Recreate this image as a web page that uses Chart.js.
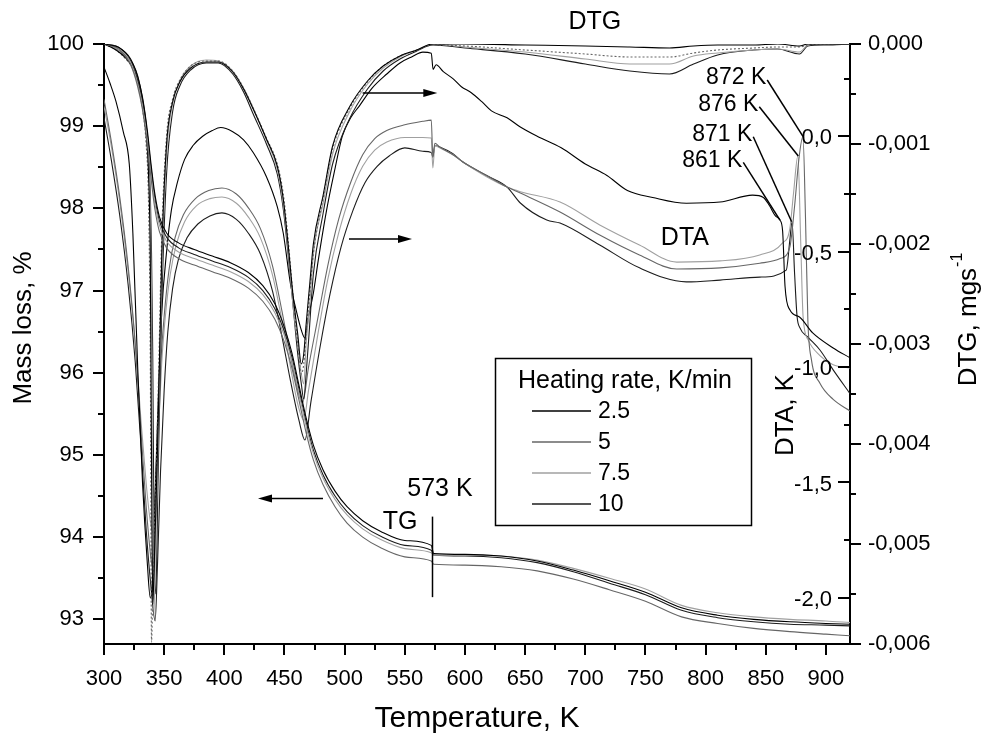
<!DOCTYPE html>
<html>
<head>
<meta charset="utf-8">
<title>TG / DTG / DTA</title>
<script src="https://cdn.jsdelivr.net/npm/chart.js@4.4.0/dist/chart.umd.min.js"></script>
<style>
  html, body { margin: 0; padding: 0; background: #fff; }
  canvas { display: block; }
</style>
</head>
<body>
<canvas id="chart" width="985" height="742"></canvas>
<script>
// Heating rates, K/min
const rates = ['2.5', '5', '7.5', '10'];
const rateColors = ['#000000', '#666666', '#a0a0a0', '#1c1c1c'];

// Tick labels
const tempTicks = [300, 350, 400, 450, 500, 550, 600, 650, 700, 750, 800, 850, 900];
const massTicks = [93, 94, 95, 96, 97, 98, 99, 100];
const dtgTicks = [0, -0.001, -0.002, -0.003, -0.004, -0.005, -0.006];
const dtaTicks = [0, -0.5, -1, -1.5, -2];

// TG, %
const tgT = [300, 312, 322, 328, 332, 336, 339, 342, 346, 352, 362, 375, 390, 405, 420, 432, 442, 450, 456, 462,
  468, 474, 482, 492, 502, 515, 530, 550, 572, 574, 600, 630, 660, 690, 720, 750, 780, 810, 840, 870, 900, 920];
const tg25 = [100, 99.96, 99.82, 99.6, 99.35, 98.95, 98.55, 98.2, 97.9, 97.7, 97.58, 97.5, 97.42, 97.34, 97.22, 97.06, 96.84, 96.55, 96.25, 95.85,
  95.45, 95.12, 94.82, 94.56, 94.37, 94.2, 94.07, 93.96, 93.9, 93.8, 93.79, 93.77, 93.71, 93.6, 93.47, 93.33, 93.14, 93.05, 93.0, 92.97, 92.95, 92.94];
const tg5 = [100, 99.94, 99.75, 99.48, 99.2, 98.78, 98.38, 98.02, 97.72, 97.52, 97.39, 97.31, 97.23, 97.15, 97.03, 96.87, 96.65, 96.37, 96.07, 95.67,
  95.27, 94.94, 94.64, 94.37, 94.17, 94.0, 93.87, 93.76, 93.71, 93.67, 93.66, 93.64, 93.59, 93.49, 93.36, 93.22, 93.03, 92.95, 92.89, 92.85, 92.82, 92.8];
const tg75 = [100, 99.95, 99.78, 99.52, 99.25, 98.85, 98.45, 98.1, 97.8, 97.6, 97.47, 97.39, 97.31, 97.23, 97.11, 96.95, 96.73, 96.45, 96.15, 95.75,
  95.35, 95.02, 94.72, 94.46, 94.27, 94.1, 93.97, 93.86, 93.81, 93.78, 93.78, 93.77, 93.72, 93.62, 93.5, 93.37, 93.17, 93.08, 93.03, 93.0, 92.98, 92.96];
const tg10 = [100, 99.96, 99.8, 99.55, 99.3, 98.9, 98.5, 98.15, 97.85, 97.65, 97.52, 97.44, 97.36, 97.28, 97.16, 97.0, 96.78, 96.5, 96.2, 95.8,
  95.4, 95.06, 94.76, 94.5, 94.31, 94.14, 94.01, 93.9, 93.84, 93.78, 93.77, 93.75, 93.69, 93.58, 93.44, 93.3, 93.11, 93.02, 92.97, 92.94, 92.93, 92.92];

// DTG, mg/s
const dtgT = [300, 310, 318, 324, 328, 332, 335, 337, 338.5, 339.5, 340.5, 341.5, 343, 345, 348, 352, 357, 363, 372, 385,
  395, 407, 416, 424, 435, 444, 449, 453, 457, 461, 464, 466, 468, 471, 474, 482, 490, 504, 519, 532,
  546, 560, 573, 600, 650, 700, 737, 770, 790, 810, 840, 860, 878, 885, 900, 920];
const dtg25 = [0, -0.00006, -0.00014, -0.00024, -0.00038, -0.00062, -0.0009, -0.0013, -0.0022, -0.0042,
  -0.0056, -0.0053, -0.0047, -0.0038, -0.0021, -0.0010, -0.00058, -0.00038, -0.00024, -0.00018,
  -0.00018, -0.00028, -0.00045, -0.00065, -0.00095, -0.00122, -0.00155, -0.0020, -0.0025, -0.0029,
  -0.0032, -0.0031, -0.0028, -0.0024, -0.0020, -0.00152, -0.00102, -0.00063, -0.00037, -0.00022,
  -0.00012, -0.00006, 0, 0, -0.00001, -0.00002, -0.00003, -0.00004, -0.00002, -0.00001,
  -0.00001, 0, -0.00002, 0, 0, 0];
const dtg5 = [0, -0.00006, -0.00015, -0.00025, -0.0004, -0.00065, -0.001, -0.0016, -0.0032, -0.00598,
  -0.0055, -0.005, -0.0044, -0.0035, -0.0019, -0.00092, -0.00055, -0.00036, -0.00022, -0.00017,
  -0.00017, -0.00027, -0.00044, -0.00064, -0.00094, -0.0012, -0.0015, -0.00195, -0.0025, -0.003,
  -0.0033, -0.0032, -0.0029, -0.0025, -0.0021, -0.00155, -0.00105, -0.00065, -0.00038, -0.00022,
  -0.00012, -0.00006, -0.00001, -0.00002, -0.00006, -0.0001, -0.00013, -0.00013, -0.00009, -0.00006,
  -0.00004, -0.00003, -0.00003, -0.00001, 0, 0];
const dtg75 = [0, -0.00005, -0.00013, -0.00023, -0.00036, -0.0006, -0.00088, -0.0012, -0.0017, -0.0026,
  -0.0045, -0.0057, -0.0049, -0.004, -0.0023, -0.0011, -0.0006, -0.00037, -0.00022, -0.00016,
  -0.00017, -0.00027, -0.00044, -0.00064, -0.00096, -0.00125, -0.0016, -0.00205, -0.0026, -0.003,
  -0.0033, -0.0034, -0.003, -0.0026, -0.0021, -0.0016, -0.0011, -0.00068, -0.0004, -0.00024,
  -0.00013, -0.00006, 0, -0.00003, -0.00008, -0.00015, -0.0002, -0.0002, -0.00012, -0.00009,
  -0.00006, -0.00005, -0.00008, -0.00001, 0, 0];
const dtg10 = [0, -0.00005, -0.00012, -0.0002, -0.00032, -0.00055, -0.0008, -0.0011, -0.0015, -0.0021,
  -0.0031, -0.0048, -0.0055, -0.0043, -0.0026, -0.0013, -0.00068, -0.00042, -0.00026, -0.00019,
  -0.00019, -0.0003, -0.00048, -0.0007, -0.001, -0.0013, -0.00165, -0.0021, -0.0026, -0.0031,
  -0.0034, -0.00355, -0.0033, -0.0028, -0.0023, -0.0017, -0.0012, -0.00075, -0.00045, -0.00027,
  -0.00015, -0.00007, -0.00001, -0.00004, -0.0001, -0.0002, -0.00027, -0.0003, -0.0002, -0.00011,
  -0.00006, -0.00005, -0.0001, -0.00002, -0.00001, 0];

// DTA, K
const dta25T = [300, 305, 310, 316, 321, 324, 328, 332, 336, 338.5, 340.5, 342.5, 345, 348, 352, 356, 361, 367, 374, 382,
  390, 397, 407, 416, 424, 435, 444, 449, 455, 460, 464, 467, 470, 474, 478, 485, 492, 498, 505, 512,
  523, 535, 546, 556, 565, 572, 573.5, 576, 582, 590, 597, 605, 614, 622, 635, 646, 660, 680, 700, 718,
  735, 756, 784, 812, 839, 848, 853, 858, 861.8, 864, 866, 870, 878, 889, 906, 920];
const dta25 = [0.30, 0.23, 0.15, 0.02, -0.12, -0.42, -1.0, -1.5, -1.85, -2.0, -1.9, -1.55, -1.15, -0.76, -0.5, -0.32, -0.2, -0.1, -0.04, 0.0,
  0.025, 0.038, 0.02, -0.015, -0.07, -0.175, -0.305, -0.42, -0.64, -0.76, -0.84, -0.874, -0.78, -0.68, -0.54, -0.32, -0.14, 0.0, 0.08, 0.13,
  0.21, 0.27, 0.318, 0.345, 0.365, 0.36, 0.29, 0.31, 0.28, 0.25, 0.215, 0.19, 0.15, 0.11, 0.08, 0.04, 0.0, -0.05, -0.12, -0.17,
  -0.235, -0.265, -0.29, -0.285, -0.255, -0.265, -0.3, -0.345, -0.363, -0.41, -0.65, -0.752, -0.783, -0.852, -0.917, -0.96];
const dta5T = [300, 306, 313, 320, 326, 331, 335, 338, 340, 342, 344.5, 347, 350, 354, 359, 366, 376, 387, 398, 410,
  420, 430, 440, 448, 455, 461, 465, 470, 478, 486, 495, 505, 515, 525, 535, 550, 565, 572, 573.3, 575,
  579, 590, 598, 618, 635, 646, 679, 712, 745, 776, 812, 845, 862, 870, 874, 877.5, 880.9, 883, 885, 888,
  895, 906, 920];
const dta5 = [0.16, -0.02, -0.26, -0.56, -0.9, -1.3, -1.6, -1.78, -1.86, -1.62, -1.3, -1.0, -0.78, -0.58, -0.44, -0.34, -0.27, -0.235, -0.224, -0.25,
  -0.31, -0.40, -0.56, -0.76, -0.95, -1.1, -1.155, -1.0, -0.78, -0.56, -0.36, -0.2, -0.08, -0.01, 0.025, 0.05, 0.065, 0.07, -0.09, -0.03,
  -0.046, -0.08, -0.11, -0.17, -0.22, -0.246, -0.328, -0.428, -0.514, -0.575, -0.57, -0.55, -0.53, -0.48, -0.3, -0.1, 0.0, -0.35, -0.8, -0.97,
  -1.07, -1.14, -1.19];
const dta75T = [300, 306, 313, 320, 326, 331, 335, 338, 341, 343, 345.5, 348, 351, 355, 360, 367, 377, 388, 398, 410,
  420, 430, 440, 448, 455, 461, 466, 470, 478, 486, 495, 505, 515, 525, 535, 550, 565, 572, 573.3, 575,
  579, 590, 598, 618, 635, 646, 679, 712, 745, 776, 812, 845, 864, 870, 873, 876.7, 879, 881, 885, 895,
  906, 920];
const dta75 = [0.13, -0.04, -0.28, -0.58, -0.9, -1.25, -1.5, -1.65, -1.72, -1.55, -1.25, -0.98, -0.78, -0.6, -0.47, -0.37, -0.3, -0.27, -0.263, -0.29,
  -0.35, -0.44, -0.60, -0.80, -1.0, -1.16, -1.23, -1.1, -0.85, -0.62, -0.42, -0.25, -0.13, -0.06, -0.025, -0.005, -0.005, -0.007, -0.137, -0.04,
  -0.05, -0.08, -0.11, -0.175, -0.22, -0.24, -0.285, -0.384, -0.471, -0.545, -0.54, -0.514, -0.462, -0.40, -0.25, -0.085, -0.45, -0.78, -0.88, -0.95,
  -0.99, -1.004];
const dta10T = [300, 306, 313, 320, 326, 331, 335, 339, 342.5, 344.5, 347, 350, 353, 357, 362, 369, 378, 388, 398, 410,
  420, 430, 440, 448, 455, 462, 467, 472, 480, 488, 497, 507, 517, 527, 537, 550, 565, 572, 573.3, 575,
  579, 590, 598, 618, 635, 646, 668, 679, 712, 745, 784, 812, 845, 867, 870, 871.8, 874, 876, 878.4, 885,
  895, 906, 920];
const dta10 = [0.08, -0.1, -0.34, -0.64, -0.98, -1.36, -1.7, -1.95, -2.1, -1.85, -1.45, -1.1, -0.85, -0.66, -0.53, -0.44, -0.38, -0.345, -0.332, -0.36,
  -0.42, -0.51, -0.67, -0.87, -1.06, -1.23, -1.316, -1.15, -0.9, -0.68, -0.48, -0.32, -0.2, -0.13, -0.085, -0.05, -0.065, -0.07, -0.09, -0.04,
  -0.046, -0.075, -0.11, -0.17, -0.22, -0.289, -0.363, -0.376, -0.471, -0.57, -0.631, -0.623, -0.61, -0.58, -0.45, -0.37, -0.6, -0.78, -0.83, -0.87,
  -0.926, -1.012, -1.115];

const FONT = "'Liberation Sans', Arial, Helvetica, sans-serif";
Chart.defaults.font.family = FONT;
Chart.defaults.color = '#000';

const pts = (xs, ys) => xs.map((x, i) => ({ x, y: ys[i] }));

const curve = (label, xs, ys, axis, color, dash) => ({
  label,
  data: pts(xs, ys),
  yAxisID: axis,
  borderColor: color,
  borderWidth: 1.1,
  borderDash: dash || [],
  pointRadius: 0,
  cubicInterpolationMode: 'monotone',
  fill: false,
});

const datasets = [
  curve('TG 2.5', tgT, tg25, 'yTG', rateColors[0]),
  curve('TG 5', tgT, tg5, 'yTG', rateColors[1]),
  curve('TG 7.5', tgT, tg75, 'yTG', rateColors[2]),
  curve('TG 10', tgT, tg10, 'yTG', rateColors[3]),
  curve('DTG 2.5', dtgT, dtg25, 'yDTG', rateColors[0]),
  curve('DTG 5', dtgT, dtg5, 'yDTG', rateColors[1], [2, 2]),
  curve('DTG 7.5', dtgT, dtg75, 'yDTG', rateColors[2]),
  curve('DTG 10', dtgT, dtg10, 'yDTG', rateColors[3]),
  curve('DTA 2.5', dta25T, dta25, 'yDTA', rateColors[0]),
  curve('DTA 5', dta5T, dta5, 'yDTA', rateColors[1]),
  curve('DTA 7.5', dta75T, dta75, 'yDTA', rateColors[2]),
  curve('DTA 10', dta10T, dta10, 'yDTA', rateColors[3]),
];

// majors plus the half steps between them (and just outside, if still on the axis)
const withMinor = (majors, min, max) => {
  const out = [];
  const step = majors[1] - majors[0];
  const first = majors[0] - step / 2;
  if (first >= min && first <= max) out.push({ v: first, major: false });
  majors.forEach((v, i) => {
    out.push({ v, major: true });
    const next = i < majors.length - 1 ? (v + majors[i + 1]) / 2 : v + step / 2;
    if (next >= min && next <= max) out.push({ v: next, major: false });
  });
  return out;
};

function arrow(ctx, x1, y, x2) {
  const dir = Math.sign(x2 - x1);
  ctx.beginPath();
  ctx.moveTo(x1, y);
  ctx.lineTo(x2 - dir * 10, y);
  ctx.stroke();
  ctx.beginPath();
  ctx.moveTo(x2, y);
  ctx.lineTo(x2 - dir * 14, y - 4);
  ctx.lineTo(x2 - dir * 14, y + 4);
  ctx.closePath();
  ctx.fill();
}

function vtext(ctx, s, cx, cy) {
  ctx.save();
  ctx.translate(cx, cy);
  ctx.rotate(-Math.PI / 2);
  ctx.textAlign = 'center';
  ctx.textBaseline = 'middle';
  ctx.fillText(s, 0, 0);
  ctx.restore();
}

const decor = {
  id: 'decor',
  afterDraw(chart) {
    const { ctx, chartArea: a, scales: { x, yTG, yDTG, yDTA } } = chart;
    const px = (v) => x.getPixelForValue(v);
    ctx.save();
    ctx.strokeStyle = '#000';
    ctx.fillStyle = '#000';
    ctx.lineWidth = 2;
    ctx.setLineDash([]);

    // tick marks
    ctx.beginPath();
    withMinor(tempTicks, x.min, x.max).forEach((t) => {
      const p = Math.round(px(t.v));
      ctx.moveTo(p, a.bottom);
      ctx.lineTo(p, a.bottom + (t.major ? 11 : 6));
    });
    withMinor(massTicks, yTG.min, yTG.max).forEach((t) => {
      const p = Math.round(yTG.getPixelForValue(t.v));
      ctx.moveTo(a.left, p);
      ctx.lineTo(a.left - (t.major ? 11 : 6), p);
    });
    withMinor(dtgTicks, yDTG.min, yDTG.max).forEach((t) => {
      const p = Math.round(yDTG.getPixelForValue(t.v));
      ctx.moveTo(a.right, p);
      ctx.lineTo(a.right + (t.major ? 11 : 6), p);
    });
    withMinor(dtaTicks, yDTA.min, yDTA.max).forEach((t) => {
      const p = Math.round(yDTA.getPixelForValue(t.v));
      ctx.moveTo(a.right, p);
      ctx.lineTo(a.right - (t.major ? 12 : 6), p);
    });
    ctx.stroke();

    // inner DTA labels
    ctx.font = '22px ' + FONT;
    ctx.textAlign = 'right';
    ctx.textBaseline = 'middle';
    dtaTicks.forEach((v) => {
      ctx.fillText(v.toFixed(1).replace('.', ','), a.right - 18, yDTA.getPixelForValue(v) + 2);
    });

    // axis titles
    ctx.font = '26px ' + FONT;
    vtext(ctx, 'Mass loss, %', 24, 328);
    vtext(ctx, 'DTA, K', 786, 415);
    ctx.save();
    ctx.translate(969, 320);
    ctx.rotate(-Math.PI / 2);
    ctx.textBaseline = 'middle';
    ctx.textAlign = 'left';
    const main = 'DTG, mgs';
    const w1 = ctx.measureText(main).width;
    ctx.font = '16px ' + FONT;
    const w2 = ctx.measureText('-1').width;
    ctx.font = '26px ' + FONT;
    ctx.fillText(main, -(w1 + w2) / 2, 0);
    ctx.font = '16px ' + FONT;
    ctx.fillText('-1', -(w1 + w2) / 2 + w1 + 1, -11);
    ctx.restore();

    // arrows telling which axis a family belongs to
    ctx.lineWidth = 1.5;
    arrow(ctx, px(515), yDTG.getPixelForValue(-0.00049), px(577));
    arrow(ctx, px(503.6), yDTA.getPixelForValue(-0.445), px(556));
    arrow(ctx, px(482), yTG.getPixelForValue(94.47), px(428));

    // quartz transition marker
    ctx.beginPath();
    ctx.moveTo(Math.round(px(573)) + 0.5, yTG.getPixelForValue(94.25));
    ctx.lineTo(Math.round(px(573)) + 0.5, yTG.getPixelForValue(93.27));
    ctx.stroke();

    // peak leaders (label anchor -> peak)
    const leaders = [
      ['872 K', 851.2, 0.244, 880.9, 0.0],
      ['876 K', 844.6, 0.128, 877.0, -0.085],
      ['871 K', 839.6, -0.002, 871.5, -0.37],
      ['861 K', 831.3, -0.113, 861.8, -0.363],
    ];
    ctx.font = '23px ' + FONT;
    ctx.textAlign = 'right';
    ctx.textBaseline = 'middle';
    leaders.forEach(([txt, t0, d0, t1, d1]) => {
      const x0 = px(t0), y0 = yDTA.getPixelForValue(d0);
      ctx.beginPath();
      ctx.moveTo(x0, y0);
      ctx.lineTo(px(t1), yDTA.getPixelForValue(d1));
      ctx.stroke();
      ctx.fillText(txt, x0 - 1, y0 - 2);
    });

    // curve family labels
    ctx.font = '25px ' + FONT;
    ctx.textAlign = 'center';
    ctx.fillText('DTG', px(708), yDTG.getPixelForValue(0.00022));
    ctx.fillText('DTA', px(782.8), yDTA.getPixelForValue(-0.44));
    ctx.fillText('TG', px(546), yTG.getPixelForValue(94.18));
    ctx.fillText('573 K', px(579.2), yTG.getPixelForValue(94.58));

    // legend
    const lx = 495, ly = 358, lw = 256, lh = 167;
    ctx.fillStyle = '#fff';
    ctx.fillRect(lx, ly, lw, lh);
    ctx.lineWidth = 1.5;
    ctx.strokeStyle = '#000';
    ctx.strokeRect(lx + 0.5, ly + 0.5, lw, lh);
    ctx.fillStyle = '#000';
    ctx.textAlign = 'left';
    ctx.font = '25px ' + FONT;
    ctx.fillText('Heating rate, K/min', lx + 23, ly + 23);
    ctx.font = '23px ' + FONT;
    rates.forEach((r, i) => {
      const yy = ly + 53 + i * 31;
      ctx.strokeStyle = rateColors[i];
      ctx.lineWidth = 1.5;
      ctx.beginPath();
      ctx.moveTo(lx + 37, yy);
      ctx.lineTo(lx + 96, yy);
      ctx.stroke();
      ctx.fillText(r, lx + 103, yy + 1);
    });
    ctx.restore();
  },
};

new Chart(document.getElementById('chart'), {
  type: 'line',
  data: { datasets },
  options: {
    responsive: false,
    animation: false,
    devicePixelRatio: 1,
    events: [],
    layout: { padding: { top: 44, left: 0, right: 0, bottom: 0 } },
    plugins: { legend: { display: false }, tooltip: { enabled: false } },
    scales: {
      x: {
        type: 'linear',
        min: 300,
        max: 920,
        afterBuildTicks: (s) => { s.ticks = tempTicks.map((v) => ({ value: v })); },
        afterFit: (s) => { s.height = 98; },
        grid: { display: false, drawTicks: false },
        border: { display: true, color: '#000', width: 2 },
        ticks: { autoSkip: false, maxRotation: 0, padding: 22, font: { size: 22 }, callback: (v) => String(v) },
        title: { display: true, text: 'Temperature, K', font: { size: 30 }, padding: { top: 0, bottom: 5 } },
      },
      yTG: {
        type: 'linear',
        position: 'left',
        min: 92.7,
        max: 100,
        afterBuildTicks: (s) => { s.ticks = massTicks.map((v) => ({ value: v })); },
        afterFit: (s) => { s.width = 104; },
        grid: { display: false, drawTicks: false },
        border: { display: true, color: '#000', width: 2 },
        ticks: { padding: 20, font: { size: 22 }, callback: (v) => String(v) },
      },
      yDTA: {
        type: 'linear',
        position: 'right',
        display: false,
        min: -2.2,
        max: 0.4,
      },
      yDTG: {
        type: 'linear',
        position: 'right',
        min: -0.006,
        max: 0,
        afterBuildTicks: (s) => { s.ticks = dtgTicks.map((v) => ({ value: v })); },
        afterFit: (s) => { s.width = 135; },
        grid: { display: false, drawTicks: false },
        border: { display: true, color: '#000', width: 2 },
        ticks: {
          padding: 18,
          font: { size: 22 },
          callback: (v) => (Math.abs(v) < 1e-9 ? '0,000' : v.toFixed(3).replace('.', ',')),
        },
      },
    },
  },
  plugins: [decor],
});
</script>
</body>
</html>
